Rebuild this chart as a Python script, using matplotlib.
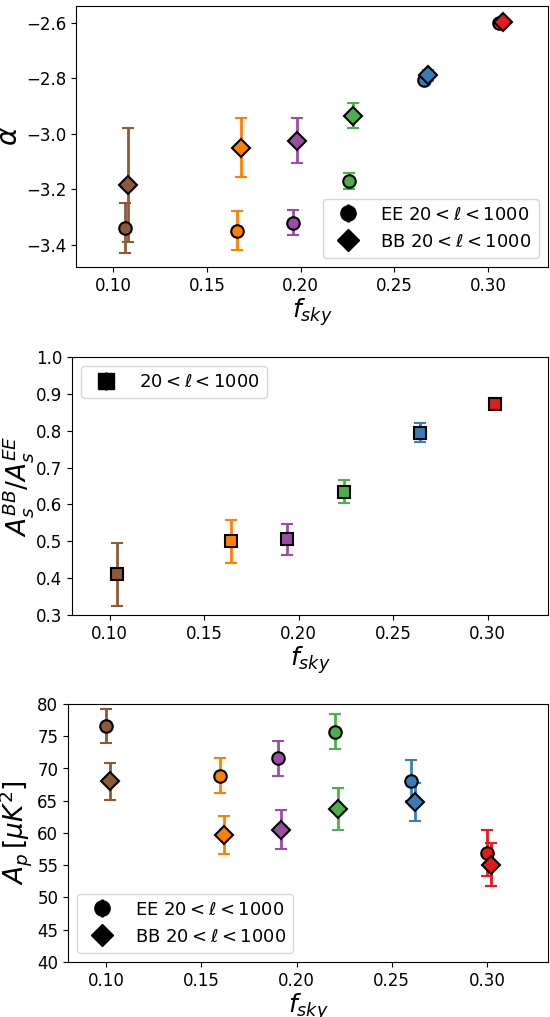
import matplotlib
matplotlib.use('Agg')
import matplotlib.pyplot as plt

colors = ['#8c5a35', '#ff7f00', '#984ea3', '#4daf4a', '#377eb8', '#e41a1c']

# alpha panel
fsky_alpha_ee = [0.106, 0.166, 0.196, 0.226, 0.266, 0.306]
fsky_alpha_bb = [0.108, 0.168, 0.198, 0.228, 0.268, 0.308]
alpha_ee = [-3.34, -3.35, -3.32, -3.17, -2.805, -2.60]
alpha_ee_err = [0.09, 0.07, 0.045, 0.03, 0.01, 0.005]
alpha_bb = [-3.185, -3.05, -3.025, -2.935, -2.79, -2.597]
alpha_bb_err = [0.205, 0.105, 0.08, 0.045, 0.02, 0.005]

# amplitude ratio panel
fsky_ratio = [0.104, 0.164, 0.194, 0.224, 0.264, 0.304]
ratio = [0.41, 0.50, 0.505, 0.635, 0.795, 0.872]
ratio_err = [0.085, 0.058, 0.043, 0.032, 0.025, 0.01]

# A_p panel
fsky_ap_ee = [0.100, 0.160, 0.190, 0.220, 0.260, 0.300]
fsky_ap_bb = [0.102, 0.162, 0.192, 0.222, 0.262, 0.302]
ap_ee = [76.6, 68.9, 71.6, 75.7, 68.1, 56.9]
ap_ee_err = [2.7, 2.7, 2.7, 2.7, 3.2, 3.5]
ap_bb = [68.0, 59.7, 60.5, 63.7, 64.8, 55.1]
ap_bb_err = [2.9, 2.9, 3.0, 3.2, 3.0, 3.3]

lab = r'$20<\ell<1000$'
W, H = 550, 1017
fig = plt.figure(figsize=(5.5, 10.17), dpi=100)

def add_ax(left, top, bottom, right=548):
    return fig.add_axes([left / W, 1 - bottom / H, (right - left) / W, (bottom - top) / H])

def draw(ax, xs, ys, errs, marker, ms):
    for x, y, e, c in zip(xs, ys, errs, colors):
        ax.errorbar(x, y, yerr=e, fmt=marker, color=c, mec='k', mew=1.5, ms=ms,
                    ecolor=c, elinewidth=2, capsize=4, capthick=2)

def proxy(ax, marker, ms, label):
    return ax.errorbar([], [], yerr=[], fmt=marker, color='k', ms=ms, elinewidth=2,
                       capsize=4, capthick=2, label=label)

ax1 = add_ax(76, 6, 267)
draw(ax1, fsky_alpha_ee, alpha_ee, alpha_ee_err, 'o', 9)
draw(ax1, fsky_alpha_bb, alpha_bb, alpha_bb_err, 'D', 9)
proxy(ax1, 'o', 11, 'EE ' + lab)
proxy(ax1, 'D', 11, 'BB ' + lab)
ax1.set_ylim(-3.48, -2.54)
ax1.set_yticks([-3.4, -3.2, -3.0, -2.8, -2.6])
ax1.set_ylabel(r'$\alpha$', fontsize=20, labelpad=2)
ax1.legend(loc='lower right', fontsize=13)

ax2 = add_ax(72, 357, 615)
draw(ax2, fsky_ratio, ratio, ratio_err, 's', 9)
proxy(ax2, 's', 11, lab)
ax2.set_ylim(0.3, 1.0)
ax2.set_ylabel(r'$A_s^{BB}/A_s^{EE}$', fontsize=19, labelpad=0)
ax2.legend(loc='upper left', fontsize=13)

ax3 = add_ax(68, 704, 962)
draw(ax3, fsky_ap_ee, ap_ee, ap_ee_err, 'o', 9)
draw(ax3, fsky_ap_bb, ap_bb, ap_bb_err, 'D', 9)
proxy(ax3, 'o', 11, 'EE ' + lab)
proxy(ax3, 'D', 11, 'BB ' + lab)
ax3.set_ylim(40, 80)
ax3.set_yticks(range(40, 81, 5))
ax3.set_ylabel(r'$A_p\,[\mu K^2]$', fontsize=19, labelpad=2)
ax3.legend(loc='lower left', fontsize=13)

for ax in (ax1, ax2, ax3):
    ax.set_xlim(0.08, 0.332)
    ax.set_xticks([0.10, 0.15, 0.20, 0.25, 0.30])
    ax.tick_params(labelsize=12)
    ax.set_xlabel(r'$f_{sky}$', fontsize=18, labelpad=1)

fig.savefig('out.png', dpi=100)
